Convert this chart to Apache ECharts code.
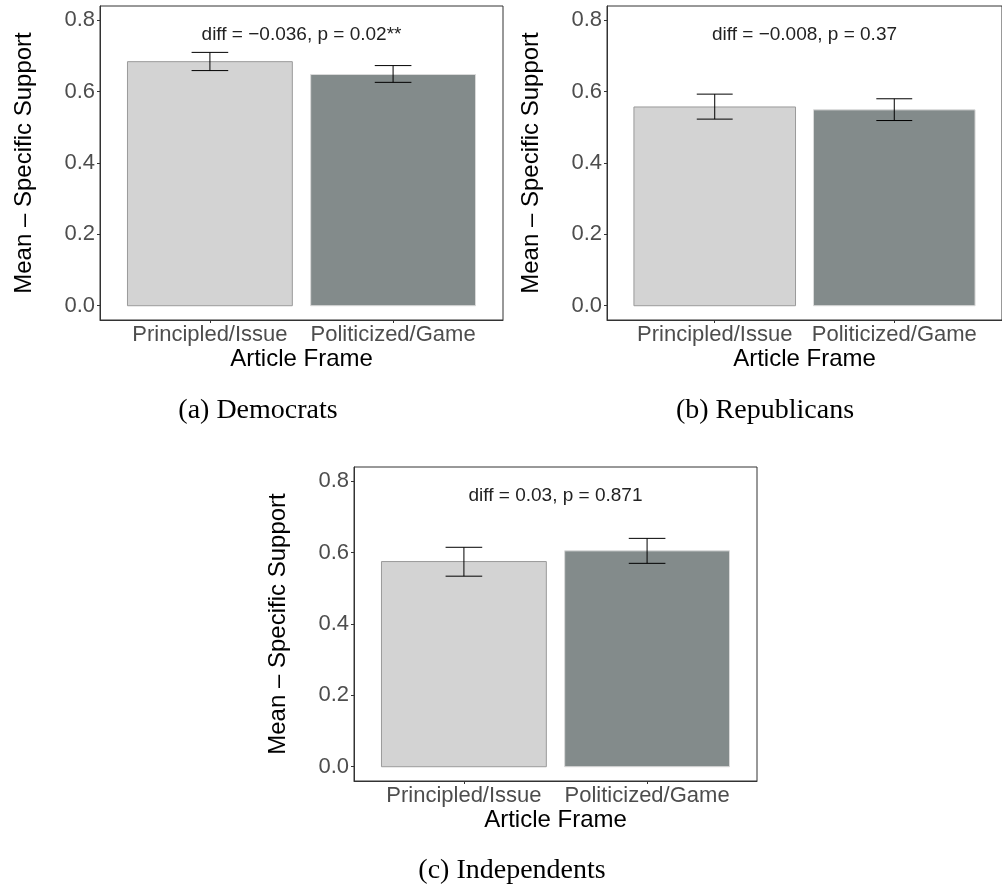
<!DOCTYPE html>
<html>
<head>
<meta charset="utf-8">
<title>Mean – Specific Support by Article Frame</title>
<script src="https://cdn.jsdelivr.net/npm/echarts@6/dist/echarts.min.js"></script>
<style>
  html, body { margin: 0; padding: 0; background: #fff; }
  #chart { width: 1002px; height: 886px; }
</style>
</head>
<body>
<div id="chart"></div>
<script>
// Article frame categories (x positions 1 and 2 on each panel)
const categories = ['Principled/Issue', 'Politicized/Game'];
const panelCaptions = ['(a) Democrats', '(b) Republicans', '(c) Independents'];
const diffLabels = ['diff = \u22120.036, p = 0.02**', 'diff = \u22120.008, p = 0.37', 'diff = 0.03, p = 0.871'];
const yTicks = [0, 0.2, 0.4, 0.6, 0.8];

// Means and confidence bounds per party
const demMeans = [0.684, 0.648];
const demLower = [0.659, 0.626];
const demUpper = [0.710, 0.673];

const repMeans = [0.557, 0.549];
const repLower = [0.523, 0.519];
const repUpper = [0.593, 0.580];

const indMeans = [0.575, 0.605];
const indLower = [0.534, 0.570];
const indUpper = [0.615, 0.640];

const panels = [
  { means: demMeans, lower: demLower, upper: demUpper },
  { means: repMeans, lower: repLower, upper: repUpper },
  { means: indMeans, lower: indLower, upper: indUpper }
];

const barFills = ['#d3d3d3', '#838b8b'];
const barStrokes = ['#9a9a9a', '#dadada'];
const FONT = '"Liberation Sans", Arial, Helvetica, sans-serif';
const SERIF = '"Liberation Serif", "Times New Roman", serif';

const gridBoxes = [
  { left: 100, top: 6, width: 403, height: 314 },
  { left: 607, top: 6, width: 403, height: 314 },
  { left: 354, top: 467, width: 403, height: 314 }
];
const captionPos = [[258, 411], [765, 411], [512, 871]];

const grids = [], xAxes = [], yAxes = [], series = [];

panels.forEach((p, i) => {
  grids.push(Object.assign({
    show: true, borderColor: '#333', borderWidth: 1, backgroundColor: 'transparent'
  }, gridBoxes[i]));

  xAxes.push({
    type: 'value', gridIndex: i, min: 0.4, max: 2.6,
    splitLine: { show: false },
    axisLine: { show: true, onZero: false, lineStyle: { color: '#333', width: 1 } },
    axisTick: { show: true, customValues: [1, 2], length: 3, lineStyle: { color: '#333' } },
    axisLabel: {
      customValues: [1, 2], margin: 4,
      formatter: v => categories[Math.round(v) - 1] || '',
      fontSize: 22, color: '#4d4d4d', fontFamily: FONT
    },
    name: 'Article Frame', nameLocation: 'middle', nameGap: 27,
    nameTextStyle: { fontSize: 24, color: '#000', fontFamily: FONT }
  });

  yAxes.push({
    type: 'value', gridIndex: i, min: -0.04, max: 0.84,
    splitLine: { show: false },
    axisLine: { show: true, onZero: false, lineStyle: { color: '#333', width: 1 } },
    axisTick: { show: true, customValues: yTicks, length: 3, lineStyle: { color: '#333' } },
    axisLabel: {
      customValues: yTicks, margin: 5,
      formatter: v => v.toFixed(1),
      fontSize: 22, color: '#4d4d4d', fontFamily: FONT
    },
    name: 'Mean \u2013 Specific Support', nameLocation: 'middle', nameGap: 64,
    nameTextStyle: { fontSize: 24, color: '#000', fontFamily: FONT }
  });

  // bars
  series.push({
    type: 'custom', xAxisIndex: i, yAxisIndex: i,
    data: p.means.map((m, k) => [k + 1, m]),
    encode: { x: 0, y: 1 },
    renderItem: (params, api) => {
      const x = api.value(0), v = api.value(1);
      const a = api.coord([x - 0.45, v]);
      const b = api.coord([x + 0.45, 0]);
      const k = params.dataIndex;
      return {
        type: 'rect',
        shape: { x: a[0], y: a[1], width: b[0] - a[0], height: b[1] - a[1] },
        style: { fill: barFills[k], stroke: barStrokes[k], lineWidth: 1 }
      };
    }
  });

  // error bars
  series.push({
    type: 'custom', xAxisIndex: i, yAxisIndex: i, z: 3,
    data: p.means.map((m, k) => [k + 1, p.lower[k], p.upper[k]]),
    encode: { x: 0, y: [1, 2] },
    renderItem: (params, api) => {
      const x = api.value(0);
      const lo = api.coord([x, api.value(1)]);
      const hi = api.coord([x, api.value(2)]);
      const l = api.coord([x - 0.1, 0])[0];
      const r = api.coord([x + 0.1, 0])[0];
      const st = { stroke: '#000', lineWidth: 1 };
      return {
        type: 'group',
        children: [
          { type: 'line', shape: { x1: hi[0], y1: hi[1], x2: lo[0], y2: lo[1] }, style: st },
          { type: 'line', shape: { x1: l, y1: hi[1], x2: r, y2: hi[1] }, style: st },
          { type: 'line', shape: { x1: l, y1: lo[1], x2: r, y2: lo[1] }, style: st }
        ]
      };
    }
  });

  // difference annotation
  series.push({
    type: 'custom', xAxisIndex: i, yAxisIndex: i, z: 4,
    data: [[1.5, 0.76]],
    encode: { x: 0, y: 1 },
    renderItem: (params, api) => {
      const c = api.coord([api.value(0), api.value(1)]);
      return {
        type: 'text', x: c[0], y: c[1],
        style: {
          text: diffLabels[i], fill: '#222', font: '19px ' + FONT,
          align: 'center', verticalAlign: 'middle'
        }
      };
    }
  });
});

const graphics = panelCaptions.map((t, i) => ({
  type: 'text', x: captionPos[i][0], y: captionPos[i][1],
  style: { text: t, fill: '#000', font: '28px ' + SERIF, align: 'center', verticalAlign: 'middle' }
}));

const chart = echarts.init(document.getElementById('chart'), null, { renderer: 'canvas' });
chart.setOption({
  animation: false,
  backgroundColor: '#fff',
  grid: grids,
  xAxis: xAxes,
  yAxis: yAxes,
  series: series,
  graphic: graphics
});
</script>
</body>
</html>
